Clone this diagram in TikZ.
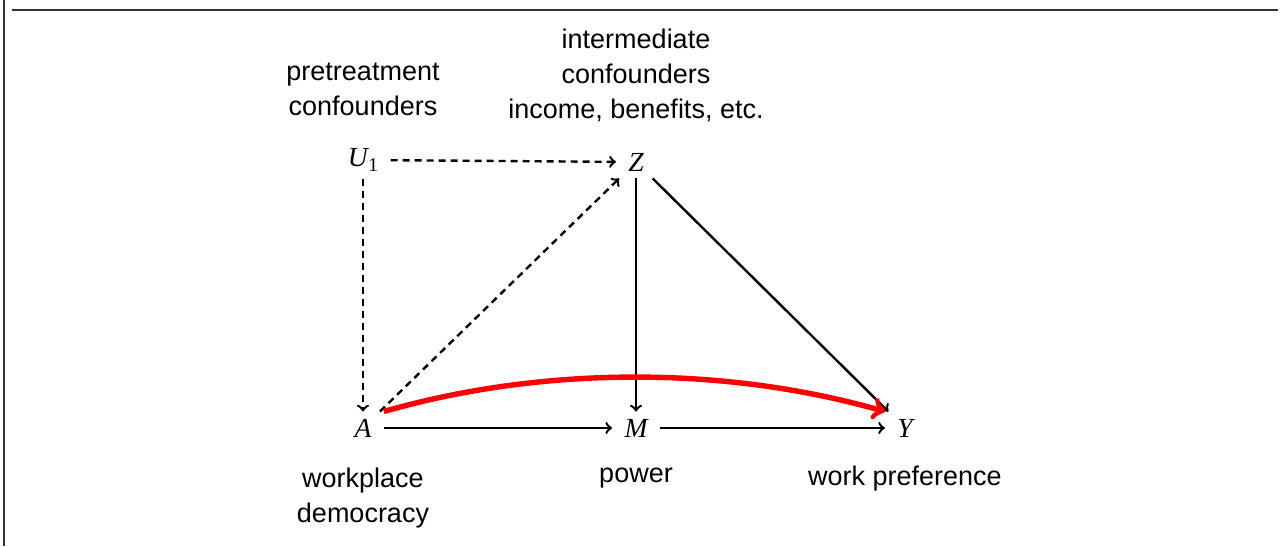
\documentclass[tikz,border=0pt]{standalone}
\usepackage{fontspec}
\setmainfont{Liberation Sans}
\newfontfamily\tms{Liberation Serif}
\begin{document}
\begin{tikzpicture}[x=0.5pt,y=-0.5pt,
  var/.style={font=\fontsize{13.8}{17.5}\selectfont\tms\itshape, inner xsep=6pt, inner ysep=3.5pt},
  lbl/.style={font=\fontsize{13.5}{17.5}\selectfont, align=center, inner sep=0pt},
  arr/.style={->, >=to, line width=1.2pt},
  darr/.style={arr, dash pattern=on 3.5pt off 2.5pt},
  frame/.style={line width=0.8pt, black!80}]
\useasboundingbox (0,0) rectangle (1283,546);
\draw[frame] (4,0) -- (4,546);
\draw[frame] (12,10) -- (1278,10);

\node[var] (U) at (363,160) {U\kern0.3pt\raisebox{-0.35ex}{\fontsize{9.7}{10}\selectfont\upshape 1}};
\node[var] (Z) at (636,162) {Z};
\node[var] (A) at (363,428) {A};
\node[var] (M) at (636,428) {M};
\node[var] (Y) at (905,428) {Y};

\node[lbl] (lu) at (363,89.5) {pretreatment\\confounders};
\node[lbl] (lz) at (636,75) {intermediate\\confounders\\income, benefits, etc.};
\node[lbl] (la) at (363,498) {workplace\\democracy};
\node[lbl] (lm) at (636,478) {power};
\node[lbl] (ly) at (905,479) {work preference};

\draw[darr] (U) -- (Z);
\draw[darr] (U) -- (A);
\draw[darr] (A) -- (Z);
\draw[arr] (Z) -- (M);
\draw[arr] (Z) -- (Y);
\draw[arr] (A) -- (M);
\draw[arr] (M) -- (Y);
\draw[arr, red, line width=2.7pt] (A.north east) to[out=16, in=164, looseness=0.85] (Y.north west);
\end{tikzpicture}
\end{document}
